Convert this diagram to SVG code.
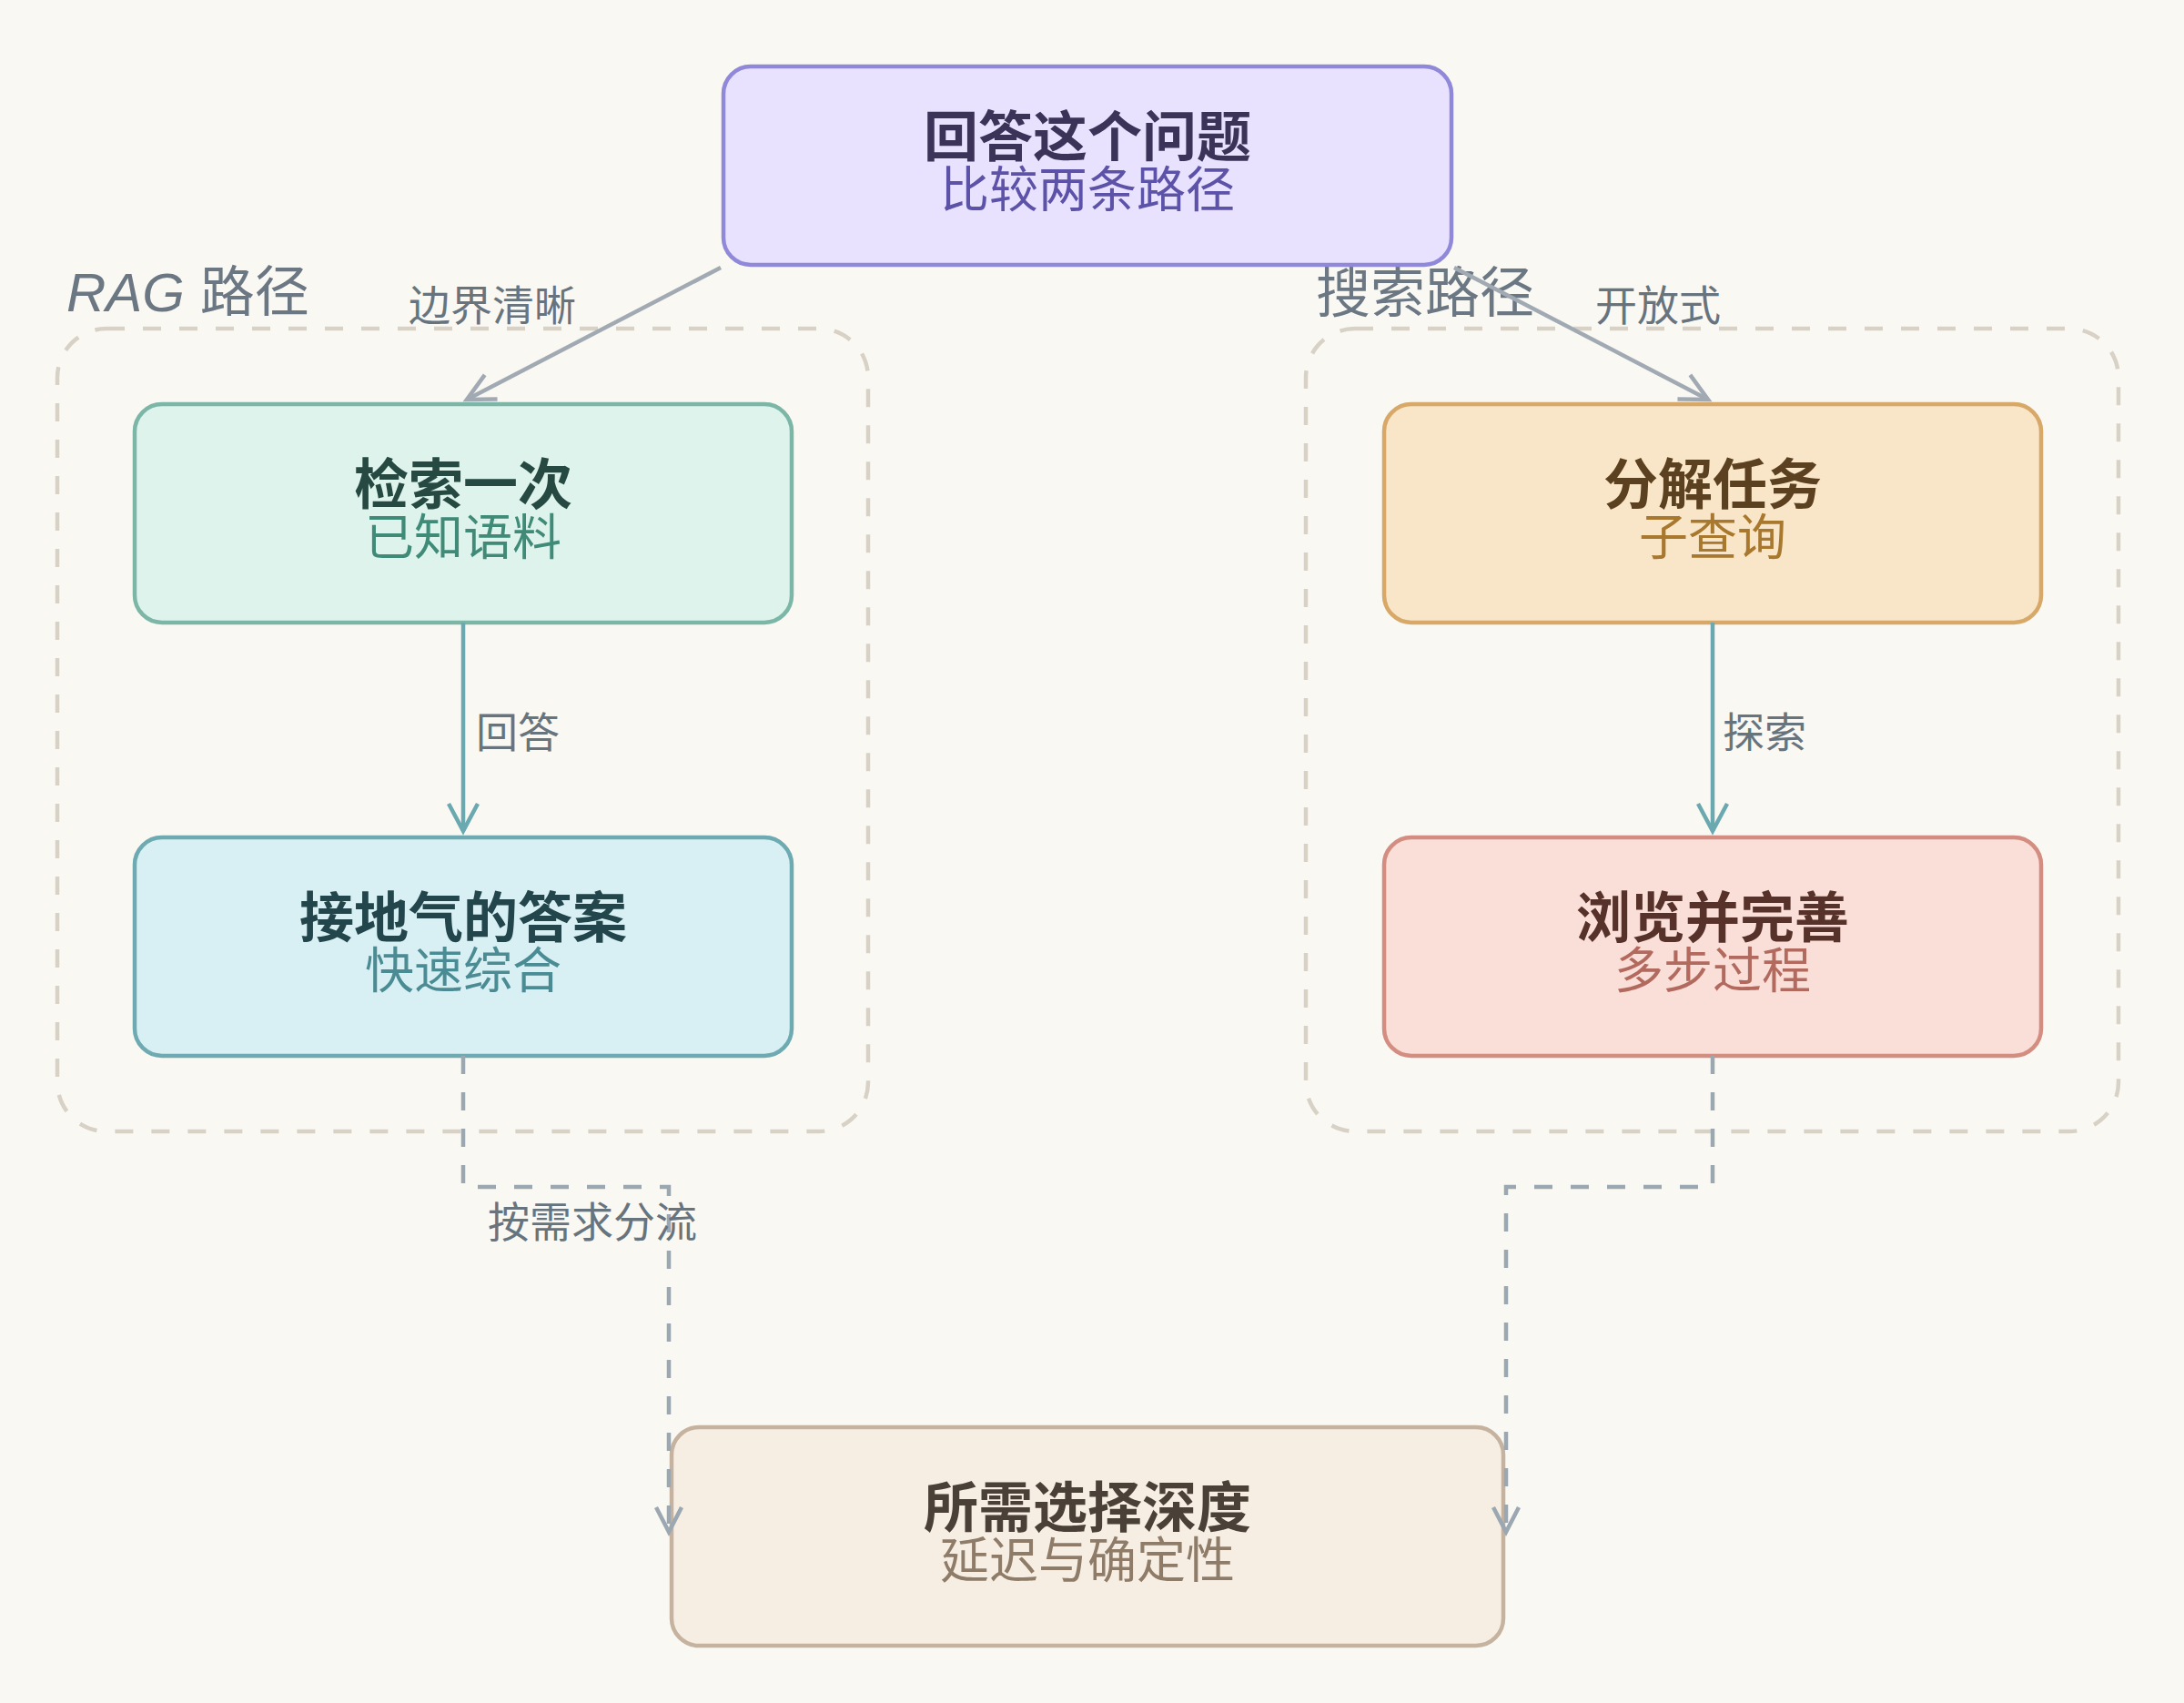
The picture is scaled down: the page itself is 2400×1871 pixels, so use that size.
<svg xmlns="http://www.w3.org/2000/svg" width="2400" height="1871" viewBox="0 0 2400 1871">
<defs>
<style>
text{font-family:"Liberation Sans","Noto Sans CJK SC",sans-serif;}
.title{font-size:60px;font-weight:700;text-anchor:middle;}
.sub{font-size:54px;font-weight:400;text-anchor:middle;}
.glabel{font-size:60px;fill:#6b7883;}
.elabel{font-size:46px;fill:#67747e;}
.grp{fill:none;stroke:#d8d1c5;stroke-width:4.5;stroke-dasharray:20 20;}
.node rect{stroke-width:4.5;}
.solid{fill:none;stroke:#a1aab3;stroke-width:4.5;}
.teal{fill:none;stroke:#6aa9b0;stroke-width:4.5;}
.dash{fill:none;stroke:#9ba7b1;stroke-width:4.5;stroke-dasharray:20 20;}
</style>
<marker id="arrGray" markerUnits="userSpaceOnUse" viewBox="-40 -24 48 48" markerWidth="48" markerHeight="48" refX="0" refY="0" orient="auto" overflow="visible">
<path d="M-30,-15 L0,0 L-30,15" fill="none" stroke="#a1aab3" stroke-width="4.5" stroke-dasharray="none"/>
</marker>
<marker id="arrTeal" markerUnits="userSpaceOnUse" viewBox="-40 -24 48 48" markerWidth="48" markerHeight="48" refX="0" refY="0" orient="auto" overflow="visible">
<path d="M-30,-16 L0,0 L-30,16" fill="none" stroke="#6aa9b0" stroke-width="4.5" stroke-dasharray="none"/>
</marker>
<marker id="arrDash" markerUnits="userSpaceOnUse" viewBox="-40 -24 48 48" markerWidth="48" markerHeight="48" refX="0" refY="0" orient="auto" overflow="visible">
<path d="M-27,-14 L0,0 L-27,14" fill="none" stroke="#9ba7b1" stroke-width="4.5" stroke-dasharray="none"/>
</marker>
</defs>
<rect x="0" y="0" width="2400" height="1871" fill="#faf8f3"/>

<g id="group-rag">
<rect class="grp" x="63" y="361" width="891" height="882" rx="54" ry="54"/>
<text class="glabel" x="73" y="342"><tspan font-style="italic">RAG</tspan> 路径</text>
</g>
<g id="group-search">
<rect class="grp" x="1435" y="361" width="893" height="882" rx="54" ry="54"/>
<text class="glabel" x="1446" y="343">搜索路径</text>
</g>

<g id="node-question" class="node">
<rect x="795" y="73" width="800" height="218" rx="30" ry="30" fill="#e8e2fe" stroke="#9088d8"/>
<text class="title" x="1195" y="172" fill="#3b3358">回答这个问题</text>
<text class="sub" x="1195" y="228" fill="#5c52a8">比较两条路径</text>
</g>
<g id="node-retrieve" class="node">
<rect x="148" y="444" width="722" height="240" rx="30" ry="30" fill="#ddf3ec" stroke="#7bb6a6"/>
<text class="title" x="509" y="554" fill="#264a41">检索一次</text>
<text class="sub" x="509" y="610" fill="#3f8b77">已知语料</text>
</g>
<g id="node-grounded" class="node">
<rect x="148" y="920" width="722" height="240" rx="30" ry="30" fill="#d8f0f3" stroke="#6eaab1"/>
<text class="title" x="509" y="1030" fill="#22464b">接地气的答案</text>
<text class="sub" x="509" y="1086" fill="#4b8b93">快速综合</text>
</g>
<g id="node-decompose" class="node">
<rect x="1521" y="444" width="722" height="240" rx="30" ry="30" fill="#f9e6c8" stroke="#d7a868"/>
<text class="title" x="1882" y="554" fill="#5b411f">分解任务</text>
<text class="sub" x="1882" y="610" fill="#a8782f">子查询</text>
</g>
<g id="node-browse" class="node">
<rect x="1521" y="920" width="722" height="240" rx="30" ry="30" fill="#fadfd9" stroke="#d38d81"/>
<text class="title" x="1882" y="1030" fill="#56322b">浏览并完善</text>
<text class="sub" x="1882" y="1086" fill="#b26a5f">多步过程</text>
</g>
<g id="node-depth" class="node">
<rect x="738" y="1568" width="914" height="240" rx="30" ry="30" fill="#f6eee3" stroke="#c5b39f"/>
<text class="title" x="1195" y="1678" fill="#4b4037">所需选择深度</text>
<text class="sub" x="1195" y="1734" fill="#8e7c68">延迟与确定性</text>
</g>

<g id="connectors">
<path class="solid" d="M792,294 L513,439" marker-end="url(#arrGray)"/>
<path class="solid" d="M1598,294 L1877,439" marker-end="url(#arrGray)"/>
<path class="teal" d="M509,684 L509,913" marker-end="url(#arrTeal)"/>
<path class="teal" d="M1882,684 L1882,913" marker-end="url(#arrTeal)"/>
<path class="dash" d="M509,1160 V1304 H735 V1683" marker-end="url(#arrDash)"/>
<path class="dash" d="M1882,1160 V1304 H1655 V1683" marker-end="url(#arrDash)"/>
<text class="elabel" x="449" y="352">边界清晰</text>
<text class="elabel" x="1753" y="352">开放式</text>
<text class="elabel" x="523" y="821">回答</text>
<text class="elabel" x="1893" y="821">探索</text>
<text class="elabel" x="536" y="1359">按需求分流</text>
</g>
</svg>
